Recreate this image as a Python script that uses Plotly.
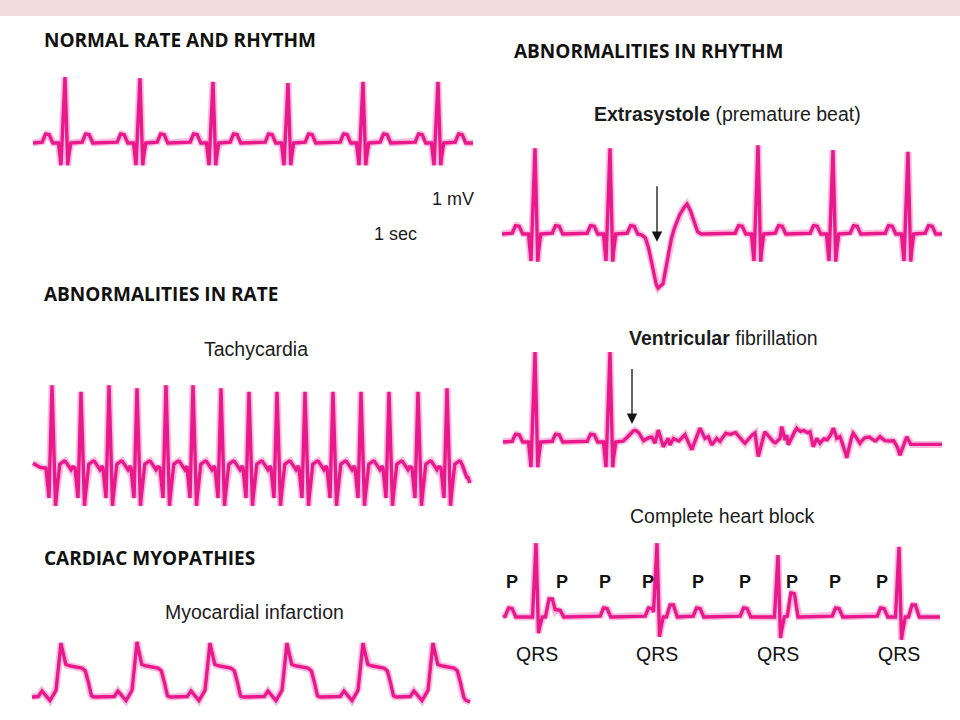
import numpy as np
import plotly.graph_objects as go

# ---------------- units ----------------
# time in ms, amplitude in mV
MS_PER_PX = 10.0
PX_PER_MV = 60.0
STEP_MS = 2.5

# generic rounded bump (P / T waves): ms around centre, fraction of its height
BUMP_MS = [-50, -35, -20, 20, 35, 50]
BUMP_FR = [0.0, 0.55, 1.0, 1.0, 0.55, 0.0]
# generic QRS complex: ms around the R peak
QRS_MS = [-65, -40, 0, 27, 50]
P_OFFSET_MS = -180
T_OFFSET_MS = 220

# ---------------- Normal rate and rhythm ----------------
NORMAL_SPAN_MS = [330, 4730]
NORMAL_R_MS = [650, 1400, 2130, 2880, 3630, 4380]
NORMAL_R_MV = [1.10, 1.08, 1.02, 1.00, 1.02, 1.02]
NORMAL_Q_MV = 0.37
NORMAL_S_MV = 0.38
NORMAL_P_MV = 0.15
NORMAL_T_MV = 0.15

# ---------------- Tachycardia ----------------
TACHY_SPAN_MS = [330, 4700]
TACHY_R_MS = [520, 810, 1090, 1370, 1660, 1930, 2210, 2490, 2770, 3050,
              3330, 3610, 3890, 4180, 4470]
TACHY_R_MV = [1.38, 1.27, 1.38, 1.33, 1.38, 1.38, 1.33, 1.27, 1.27, 1.27,
              1.27, 1.27, 1.27, 1.27, 1.33]
TACHY_BEAT_MS = [-60, -30, 0, 35, 70, 100, 130, 160, 190, 210, 220]
TACHY_BEAT_MV = [0.0, -0.50, None, -0.63, 0.05, 0.10, 0.12, 0.05, -0.03, 0.03, 0.0]
TACHY_START_MS = [330, 380, 420]
TACHY_START_MV = [0.08, 0.02, 0.0]
TACHY_END_MS = [4620, 4700]
TACHY_END_MV = [0.0, -0.25]

# ---------------- Myocardial infarction ----------------
MI_SPAN_MS = [320, 4700]
MI_R_MS = [610, 1370, 2100, 2870, 3630, 4330]
MI_R_MV = [0.90, 0.92, 0.90, 0.90, 0.90, 0.90]
MI_BEAT_MS = [-230, -210, -190, -170, -150, -110, -50, 0, 40, 73, 190, 240, 273, 297, 320]
MI_BEAT_MV = [0.0, 0.06, 0.10, 0.06, 0.0, -0.06, 0.11, None, 0.55, 0.52, 0.50, 0.45, 0.28, 0.03, 0.0]
MI_END_MS = [4630, 4650, 4700]
MI_END_MV = [0.0, -0.05, -0.08]

# ---------------- Extrasystole ----------------
EXTRA_SPAN_MS = [220, 4620]
EXTRA_R_MS = [550, 1300, 2780, 3530, 4280]
EXTRA_R_MV = [1.43, 1.43, 1.48, 1.40, 1.37]
EXTRA_Q_MV = 0.45
EXTRA_S_MV = 0.47
EXTRA_P_MV = 0.14
EXTRA_T_MV = 0.14
ECTOPIC_MS = [1600, 1650, 1680, 1720, 1750, 1780, 1830, 1870, 1920, 1970, 2020, 2070, 2100, 2130, 2170, 2200]
ECTOPIC_MV = [0.0, -0.05, -0.18, -0.52, -0.80, -0.90, -0.83, -0.43, -0.03, 0.23, 0.40, 0.50, 0.42, 0.25, 0.05, 0.0]
EXTRA_ARROW_MS = 1770
EXTRA_ARROW_MV = [0.82, -0.13]

# ---------------- Ventricular fibrillation ----------------
VF_SPAN_MS = [230, 4620]
VF_R_MS = [550, 1300]
VF_R_MV = [1.50, 1.50]
VF_Q_MV = 0.42
VF_S_MV = 0.43
VF_P_MV = [0.13, 0.13]
VF_T_MV = [0.13, 0.0]
VF_FIB_MS = [1420, 1467, 1517, 1550, 1583, 1633, 1667, 1717, 1750, 1783, 1833, 1883, 1900,
             1933, 1983, 2050, 2117, 2200, 2250, 2283, 2317, 2367, 2400, 2450, 2500, 2550,
             2600, 2650, 2700, 2750, 2783, 2817, 2850, 2900, 2950, 3000, 3017, 3050, 3067,
             3083, 3117, 3167, 3200, 3233, 3267, 3300, 3333, 3367, 3400, 3433, 3467, 3500,
             3533, 3550, 3567, 3600, 3650, 3667, 3700, 3733, 3767, 3800, 3833, 3883, 3917,
             3950, 4000, 4033, 4083, 4133, 4167, 4200, 4233, 4267, 4300, 4620]
VF_FIB_MV = [0.0, 0.06, 0.17, 0.20, 0.17, 0.02, 0.06, 0.09, -0.02, 0.20, -0.08, 0.06, -0.05,
             0.06, 0.01, 0.12, -0.13, 0.23, 0.06, 0.09, -0.05, 0.06, 0.01, 0.15, 0.12, 0.17,
             0.06, -0.02, 0.09, 0.15, -0.25, 0.01, 0.17, 0.06, -0.02, 0.06, 0.26, 0.03, 0.12,
             -0.05, 0.09, 0.23, 0.17, 0.20, 0.15, 0.17, -0.08, 0.06, -0.02, 0.06, 0.03, 0.09,
             0.23, 0.17, 0.06, 0.09, -0.13, -0.27, 0.01, 0.15, 0.06, -0.02, 0.06, 0.09, 0.06,
             0.01, 0.09, 0.03, 0.01, 0.03, -0.05, -0.22, -0.05, 0.09, -0.04, -0.04]
VF_ARROW_MS = 1520
VF_ARROW_MV = [1.24, 0.30]

# ---------------- Complete heart block ----------------
CHB_SPAN_MS = [230, 4600]
CHB_P_MS = [300, 780, 1250, 1700, 2180, 2650, 3120, 3570, 4020]
CHB_P_MV = [0.15, 0.12, 0.15, 0.15, 0.15, 0.15, 0.15, 0.15, 0.15]
CHB_R_MS = [560, 1770, 2980, 4190]
CHB_R_MV = [1.23, 1.23, 1.03, 1.17]
CHB_S_MV = [0.27, 0.33, 0.35, 0.38]
CHB_QRS_MS = [-35, 0, 25, 55]
CHB_T_DELAY_MS = 145
CHB_T_MV = [0.30, 0.20, 0.25, 0.20]
P_LABEL_MS = [320, 820, 1250, 1680, 2180, 2650, 3120, 3550, 4020]
QRS_LABEL_MS = [570, 1770, 2980, 4190]

# ---------------- text ----------------
HEADINGS = ["NORMAL RATE AND RHYTHM", "ABNORMALITIES IN RHYTHM",
            "ABNORMALITIES IN RATE", "CARDIAC MYOPATHIES"]
SUBTITLES = ["Tachycardia", "Myocardial infarction", "<b>Extrasystole</b> (premature beat)",
             "<b>Ventricular</b> fibrillation", "Complete heart block"]
SCALE_LABELS = ["1 mV", "1 sec"]

# ---------------- helpers ----------------
def grid(span):
    return np.arange(span[0], span[1] + STEP_MS / 2, STEP_MS)


def waves(t, centers, shape_ms, shape_vals):
    y = np.zeros_like(t)
    sm = np.asarray(shape_ms, dtype=float)
    for c, vals in zip(centers, shape_vals):
        y += np.interp(t, c + sm, np.asarray(vals, dtype=float), left=0.0, right=0.0)
    return y


def bumps(t, centers, amps):
    return waves(t, centers, BUMP_MS, [np.asarray(BUMP_FR) * a for a in amps])


def with_peak(template, r):
    return [r if v is None else v for v in template]


def qrs(t, r_ms, r_mv, q, s):
    return waves(t, r_ms, QRS_MS, [[0, -q, r, -s, 0] for r in r_mv])


# panel placement on the 960x720 page (pixels): left edge, baseline
PANELS = {
    "normal": (0, 143),
    "tachy": (0, 468),
    "mi": (0, 697),
    "extra": (480, 234),
    "vf": (480, 442),
    "chb": (480, 617),
}


def to_px(panel, t, v):
    x0, base = PANELS[panel]
    return x0 + np.asarray(t) / MS_PER_PX, base - np.asarray(v) * PX_PER_MV


# ---------------- build signals ----------------
signals = {}

t = grid(NORMAL_SPAN_MS)
v = (qrs(t, NORMAL_R_MS, NORMAL_R_MV, NORMAL_Q_MV, NORMAL_S_MV)
     + bumps(t, [r + P_OFFSET_MS for r in NORMAL_R_MS], [NORMAL_P_MV] * len(NORMAL_R_MS))
     + bumps(t, [r + T_OFFSET_MS for r in NORMAL_R_MS], [NORMAL_T_MV] * len(NORMAL_R_MS)))
signals["normal"] = (t, v)

t = grid(TACHY_SPAN_MS)
v = (waves(t, TACHY_R_MS, TACHY_BEAT_MS, [with_peak(TACHY_BEAT_MV, r) for r in TACHY_R_MV])
     + np.interp(t, TACHY_START_MS, TACHY_START_MV, left=TACHY_START_MV[0], right=0.0)
     + np.interp(t, TACHY_END_MS, TACHY_END_MV, left=0.0, right=TACHY_END_MV[-1]))
signals["tachy"] = (t, v)

t = grid(MI_SPAN_MS)
v = (waves(t, MI_R_MS, MI_BEAT_MS, [with_peak(MI_BEAT_MV, r) for r in MI_R_MV])
     + np.interp(t, MI_END_MS, MI_END_MV, left=0.0, right=MI_END_MV[-1]))
signals["mi"] = (t, v)

t = grid(EXTRA_SPAN_MS)
v = (qrs(t, EXTRA_R_MS, EXTRA_R_MV, EXTRA_Q_MV, EXTRA_S_MV)
     + bumps(t, [r + P_OFFSET_MS for r in EXTRA_R_MS], [EXTRA_P_MV] * len(EXTRA_R_MS))
     + bumps(t, [r + T_OFFSET_MS for r in EXTRA_R_MS], [EXTRA_T_MV] * len(EXTRA_R_MS))
     + np.interp(t, ECTOPIC_MS, ECTOPIC_MV, left=0.0, right=0.0))
signals["extra"] = (t, v)

t = grid(VF_SPAN_MS)
v = (qrs(t, VF_R_MS, VF_R_MV, VF_Q_MV, VF_S_MV)
     + bumps(t, [r + P_OFFSET_MS for r in VF_R_MS], VF_P_MV)
     + bumps(t, [r + T_OFFSET_MS for r in VF_R_MS], VF_T_MV)
     + np.interp(t, VF_FIB_MS, VF_FIB_MV, left=0.0, right=VF_FIB_MV[-1]))
signals["vf"] = (t, v)

t = grid(CHB_SPAN_MS)
v = (waves(t, CHB_R_MS, CHB_QRS_MS, [[0, r, -s, 0] for r, s in zip(CHB_R_MV, CHB_S_MV)])
     + bumps(t, CHB_P_MS, CHB_P_MV)
     + bumps(t, [r + CHB_T_DELAY_MS for r in CHB_R_MS], CHB_T_MV))
signals["chb"] = (t, v)

# ---------------- figure ----------------
LINE = "#e8198b"
GLOW = "rgba(236, 40, 150, 0.30)"

fig = go.Figure()
for name, (t, v) in signals.items():
    x, y = to_px(name, t, v)
    fig.add_trace(go.Scatter(x=x, y=y, mode="lines", hoverinfo="skip",
                             line=dict(color=GLOW, width=7)))
    fig.add_trace(go.Scatter(x=x, y=y, mode="lines", hoverinfo="skip",
                             line=dict(color=LINE, width=3.4)))

ann = []
HEAD_FONT = dict(family="Open Sans, Liberation Sans, sans-serif", size=19, color="#111111")
SUB_FONT = dict(family="Liberation Sans, Arial, sans-serif", size=19.5, color="#1c1c1c")

for text, (x, y) in zip(HEADINGS, [(42, 40), (512, 51), (42, 294), (42, 558)]):
    ann.append(dict(text="<b>%s</b>" % text, x=x, y=y, xanchor="left", yanchor="middle",
                    font=HEAD_FONT))
for text, (x, y) in zip(SUBTITLES, [(256, 349), (254, 612), (727, 114), (723, 338), (722, 516)]):
    ann.append(dict(text=text, x=x, y=y, xanchor="center", yanchor="middle", font=SUB_FONT))
for text, (x, y) in zip(SCALE_LABELS, [(453, 199), (395, 234)]):
    ann.append(dict(text=text, x=x, y=y, xanchor="center", yanchor="middle",
                    font=dict(SUB_FONT, size=18)))

# complete heart block labels
for tm in P_LABEL_MS:
    x, _ = to_px("chb", [tm], [0])
    ann.append(dict(text="<b>P</b>", x=float(x[0]), y=582, xanchor="center", yanchor="middle",
                    font=dict(SUB_FONT, size=18, color="#111111")))
for tm in QRS_LABEL_MS:
    x, _ = to_px("chb", [tm], [0])
    ann.append(dict(text="QRS", x=float(x[0]), y=654, xanchor="center", yanchor="middle",
                    font=dict(SUB_FONT, size=19.5, color="#111111")))

# arrows
for panel, tm, (v_from, v_to) in [("extra", EXTRA_ARROW_MS, EXTRA_ARROW_MV),
                                  ("vf", VF_ARROW_MS, VF_ARROW_MV)]:
    xs, ys = to_px(panel, [tm, tm], [v_from, v_to])
    ann.append(dict(text="", x=float(xs[1]), y=float(ys[1]), ax=float(xs[0]), ay=float(ys[0]),
                    xref="x", yref="y", axref="x", ayref="y", showarrow=True,
                    arrowhead=2, arrowsize=1.6, arrowwidth=1.3, arrowcolor="#151515"))

for a in ann:
    a.setdefault("xref", "x")
    a.setdefault("yref", "y")
    a.setdefault("showarrow", False)

fig.update_layout(
    width=960, height=720,
    margin=dict(l=0, r=0, t=0, b=0),
    paper_bgcolor="white", plot_bgcolor="white",
    showlegend=False,
    xaxis=dict(range=[0, 960], visible=False, fixedrange=True),
    yaxis=dict(range=[720, 0], visible=False, fixedrange=True),
    annotations=ann,
    shapes=[dict(type="rect", xref="x", yref="y", x0=0, x1=960, y0=0, y1=16,
                 fillcolor="#f2dcdc", line=dict(width=0), layer="below")],
)

fig.write_html("out.html", config={"displayModeBar": False, "staticPlot": True},
               post_script="document.body.style.margin='0px';document.body.style.overflow='hidden';")
